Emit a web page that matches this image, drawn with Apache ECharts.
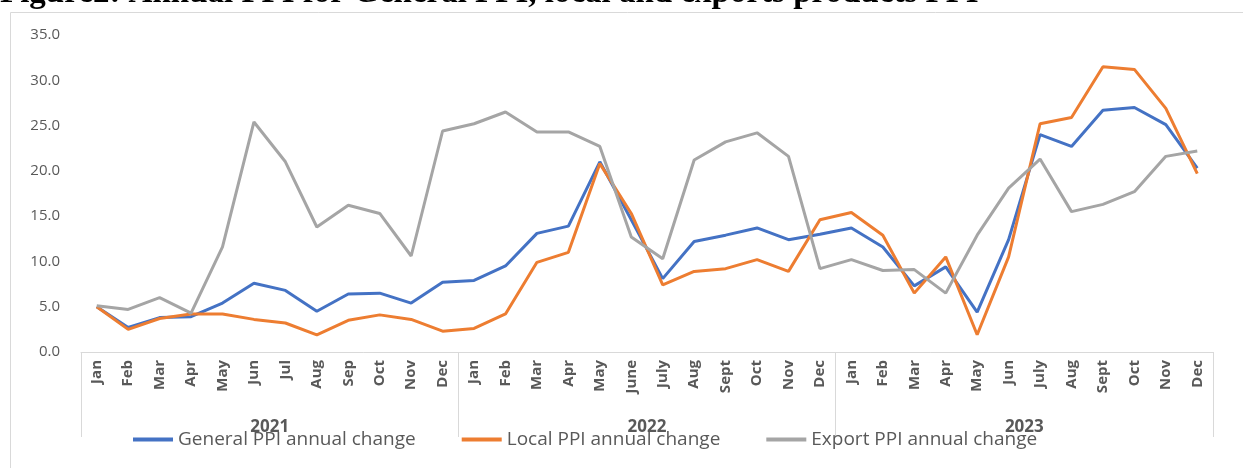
<!DOCTYPE html>
<html>
<head>
<meta charset="utf-8">
<script src="https://cdn.jsdelivr.net/npm/echarts@6/dist/echarts.min.js"></script>
<style>
  html, body { margin: 0; padding: 0; background: #fff; }
  #chart { width: 1243px; height: 468px; }
</style>
</head>
<body>
<div id="chart"></div>
<script>
// month labels as printed under the axis (3 years)
var months = ['Jan', 'Feb', 'Mar', 'Apr', 'May', 'Jun', 'Jul', 'Aug', 'Sep', 'Oct', 'Nov', 'Dec',
    'Jan', 'Feb', 'Mar', 'Apr', 'May', 'June', 'July', 'Aug', 'Sept', 'Oct', 'Nov', 'Dec',
    'Jan', 'Feb', 'Mar', 'Apr', 'May', 'Jun', 'July', 'Aug', 'Sept', 'Oct', 'Nov', 'Dec'];
var years = ['2021', '2022', '2023'];

var generalPPI = [5.0, 2.7, 3.8, 3.9, 5.4, 7.6, 6.8, 4.5, 6.4, 6.5, 5.4, 7.7,
    7.9, 9.5, 13.1, 13.9, 21.0, 14.6, 8.1, 12.2, 12.9, 13.7, 12.4, 13.0,
    13.7, 11.6, 7.3, 9.4, 4.4, 12.4, 24.0, 22.7, 26.7, 27.0, 25.1, 20.3];
var localPPI = [5.0, 2.5, 3.7, 4.2, 4.2, 3.6, 3.2, 1.9, 3.5, 4.1, 3.6, 2.3,
    2.6, 4.2, 9.9, 11.0, 20.8, 15.3, 7.4, 8.9, 9.2, 10.2, 8.9, 14.6,
    15.4, 12.9, 6.5, 10.5, 1.9, 10.5, 25.2, 25.9, 31.5, 31.2, 26.9, 19.7];
var exportPPI = [5.1, 4.7, 6.0, 4.3, 11.6, 25.4, 21.0, 13.8, 16.2, 15.3, 10.6, 24.4,
    25.2, 26.5, 24.3, 24.3, 22.7, 12.7, 10.3, 21.2, 23.2, 24.2, 21.6, 9.2,
    10.2, 9.0, 9.1, 6.5, 12.9, 18.1, 21.3, 15.5, 16.3, 17.7, 21.6, 22.2];

var textGray = '#595959';
var lineGray = '#d9d9d9';

var chart = echarts.init(document.getElementById('chart'));

chart.setOption({
    animation: false,
    textStyle: { fontFamily: 'Open Sans' },
    grid: { left: 81, right: 30, top: 35, bottom: 116 },
    graphic: [
        {
            type: 'rect',
            shape: { x: 10.5, y: 12.5, width: 1300, height: 500 },
            style: { fill: 'none', stroke: lineGray, lineWidth: 1 },
            silent: true
        },
        {
            type: 'text',
            x: 0,
            y: 10,
            style: {
                text: 'Figure2: Annual PPI for General PPI, local and exports products PPI',
                font: 'bold 33px "Liberation Serif"',
                fill: '#000',
                verticalAlign: 'bottom'
            },
            silent: true
        }
    ],
    legend: {
        left: 133,
        top: 430,
        padding: 0,
        icon: 'rect',
        itemWidth: 40,
        itemHeight: 4,
        itemGap: 46,
        textStyle: { fontSize: 19, color: textGray },
        data: ['General PPI annual change', 'Local PPI annual change', 'Export PPI annual change']
    },
    xAxis: [
        {
            type: 'category',
            data: months,
            boundaryGap: true,
            axisLine: { lineStyle: { color: lineGray, width: 1 } },
            axisTick: { show: false },
            axisLabel: {
                interval: 0,
                rotate: 90,
                margin: 8,
                fontSize: 15,
                fontWeight: 'bold',
                color: textGray
            }
        },
        {
            type: 'category',
            data: years,
            position: 'bottom',
            boundaryGap: true,
            axisLine: { show: false },
            axisTick: { show: true, length: 85, lineStyle: { color: lineGray, width: 1 } },
            axisLabel: {
                margin: 67,
                fontSize: 17,
                fontWeight: 'bold',
                color: textGray
            }
        }
    ],
    yAxis: {
        type: 'value',
        min: 0,
        max: 35,
        interval: 5,
        axisLine: { show: false },
        axisTick: { show: false },
        splitLine: { show: false },
        axisLabel: {
            margin: 21,
            fontSize: 15,
            color: textGray,
            formatter: function (v) { return v.toFixed(1); }
        }
    },
    series: [
        {
            name: 'General PPI annual change',
            type: 'line',
            data: generalPPI,
            symbol: 'none',
            lineStyle: { width: 3, color: '#4472C4' },
            itemStyle: { color: '#4472C4' }
        },
        {
            name: 'Local PPI annual change',
            type: 'line',
            data: localPPI,
            symbol: 'none',
            lineStyle: { width: 3, color: '#ED7D31' },
            itemStyle: { color: '#ED7D31' }
        },
        {
            name: 'Export PPI annual change',
            type: 'line',
            data: exportPPI,
            symbol: 'none',
            lineStyle: { width: 3, color: '#A5A5A5' },
            itemStyle: { color: '#A5A5A5' }
        }
    ]
});
</script>
</body>
</html>
